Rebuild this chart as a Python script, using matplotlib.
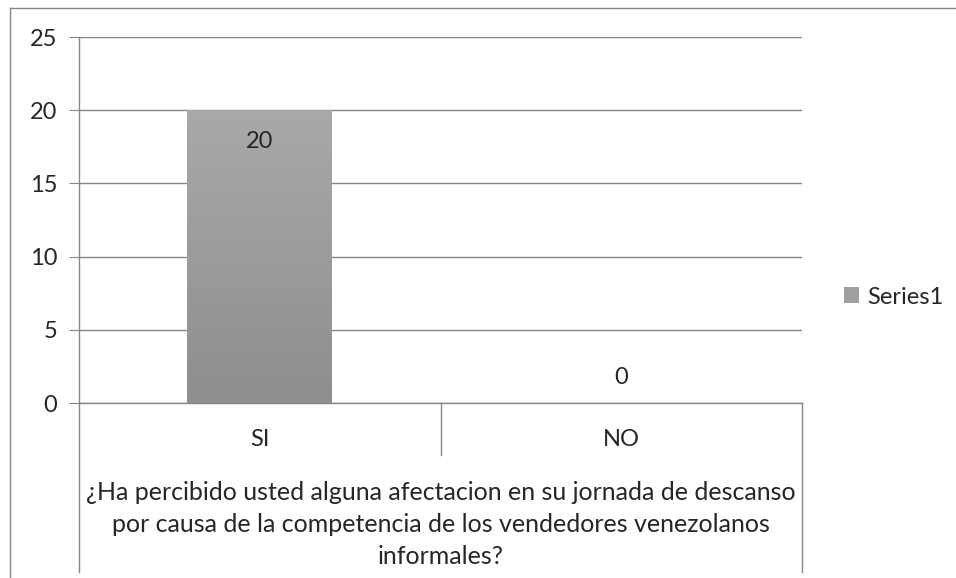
import numpy as np
import matplotlib
matplotlib.use("Agg")
import matplotlib.pyplot as plt
from matplotlib.lines import Line2D
from matplotlib.patches import Patch
import matplotlib.transforms as mtransforms

# === Data ===
categories = ["SI", "NO"]
values = [20, 0]
series_name = "Series1"
yticks = [0, 5, 10, 15, 20, 25]
question_lines = [
    "¿Ha percibido usted alguna afectacion en su jornada de descanso",
    "por causa de la competencia de los vendedores venezolanos",
    "informales?",
]

plt.rcParams['font.family'] = ['Lato', 'DejaVu Sans']

W, H = 956, 578
GRID = "#868686"
TXT = "#262626"
FS = 17

fig = plt.figure(figsize=(W / 100, H / 100), dpi=100)
fig.patch.set_facecolor("white")

# plot area in pixel coords
L, R, T, B = 79, 802, 37, 403
ax = fig.add_axes([L / W, 1 - B / H, (R - L) / W, (B - T) / H])

x = np.arange(len(categories))
bars = ax.bar(x, values, width=0.4, color="#9c9c9c", zorder=3)

# gradient fill on bars
grad = np.linspace(0, 1, 256).reshape(-1, 1)
cmap = matplotlib.colors.LinearSegmentedColormap.from_list("g", ["#8e8e8e", "#a9a9a9"])
for b in bars:
    if b.get_height() <= 0:
        continue
    x0, w, h = b.get_x(), b.get_width(), b.get_height()
    im = ax.imshow(grad, extent=[x0, x0 + w, 0, h], origin="lower", cmap=cmap,
                   aspect="auto", zorder=4)
    im.set_clip_path(b)

ax.set_xlim(-0.5, len(categories) - 0.5)
ax.set_ylim(0, 25)
ax.set_yticks(yticks)
ax.set_yticklabels([str(t) for t in yticks], fontsize=FS, color=TXT)
ax.tick_params(axis="y", length=7, color=GRID, pad=8.5)
ax.set_xticks([])
ax.grid(axis="y", color=GRID, linewidth=1, zorder=0)
for s in ["top", "right"]:
    ax.spines[s].set_visible(False)
for s in ["left", "bottom"]:
    ax.spines[s].set_color(GRID)
    ax.spines[s].set_linewidth(1)

# data labels
for xi, v in zip(x, values):
    off = -31 if v > 0 else 25
    ax.annotate(str(v), (xi, v), xytext=(0, off), textcoords="offset pixels",
                ha="center", va="center", fontsize=FS, color=TXT, zorder=5)

# multi-level category axis
trans = mtransforms.blended_transform_factory(ax.transData, ax.transAxes)
ph = B - T
for xb, depth in [(-0.5, 572), (0.5, 455), (len(categories) - 0.5, 572)]:
    ax.add_line(Line2D([xb, xb], [0, -(depth - B) / ph], transform=trans,
                       color=GRID, linewidth=1, clip_on=False))
for xi, c in zip(x, categories):
    ax.text(xi, -(440 - B) / ph, c, transform=trans, ha="center", va="center",
            fontsize=FS, color=TXT)
xmid = (len(categories) - 1) / 2
for i, line in enumerate(question_lines):
    ax.text(xmid, -(492 + 32 * i - B) / ph, line, transform=trans,
            ha="center", va="center", fontsize=18, color=TXT)

# legend
fig.legend(handles=[Patch(facecolor="#a0a0a0", label=series_name)],
           loc="center left", bbox_to_anchor=(844 / W, 1 - 297 / H), frameon=False,
           borderaxespad=0, borderpad=0,
           fontsize=FS, handlelength=0.65, handleheight=0.65, handletextpad=0.35,
           labelcolor=TXT)

# outer chart frame (partially cropped)
fig.add_artist(Line2D([10 / W, 10 / W], [0, 1 - 8 / H], transform=fig.transFigure,
                      color=GRID, linewidth=1))
fig.add_artist(Line2D([10 / W, 1], [1 - 8 / H, 1 - 8 / H], transform=fig.transFigure,
                      color=GRID, linewidth=1))

fig.savefig("out.png", dpi=100)
